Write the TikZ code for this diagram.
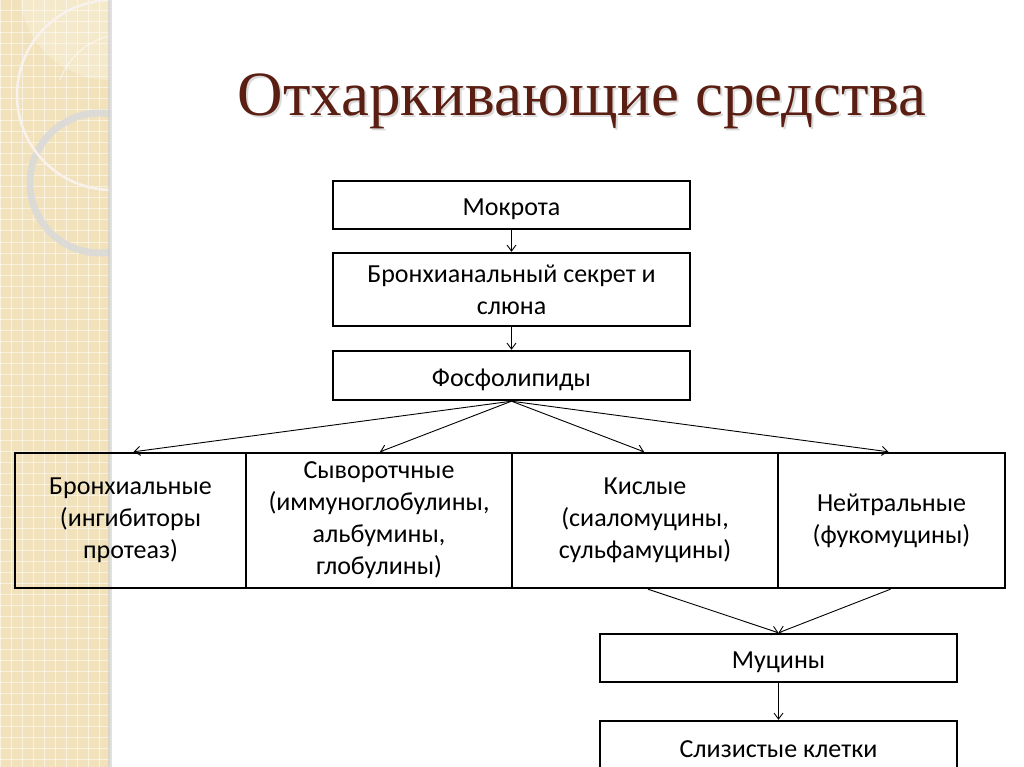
\documentclass[tikz,border=0pt]{standalone}
\usepackage{fontspec}
\setmainfont{Carlito}
\newfontfamily\titlefont{Liberation Serif}
\usetikzlibrary{arrows.meta}
\definecolor{strip}{HTML}{F2E2BC}
\definecolor{titlebrown}{HTML}{5A1E12}
\begin{document}
\begin{tikzpicture}[x=1pt,y=-1pt,
  box/.style={draw=black,line width=2.4pt,align=center,inner sep=1pt,
    font=\fontsize{26}{32}\selectfont,
    execute at begin node={\rule{0pt}{26pt}}},
  wbox/.style={box,fill=white},
  arr/.style={line width=0.9pt,-{Straight Barb[length=6pt,width=9pt]}}]
\useasboundingbox (0,0) rectangle (1024,767);
\fill[white] (0,0) rectangle (1024,767);
% left decorative strip
\begin{scope}
\clip (0,0) rectangle (110,767);
\fill[strip] (0,0) rectangle (110,767);
\foreach \i in {0,11,...,770}{
  \draw[white,opacity=0.55,line width=1pt] (\i,0) -- (\i,767);
  \draw[white,opacity=0.55,line width=1pt] (0,\i) -- (110,\i);
}
\fill[white,opacity=0.25] (110,-10) circle (90);
\draw[line width=7pt,color=gray!30,opacity=0.85] (100,183) circle (70);
\draw[line width=2.5pt,color=white!90!brown] (112,95) circle (95);
\draw[line width=1pt,color=white,opacity=0.6] (60,80) arc (200:300:70);
\end{scope}
\fill[gray!40,opacity=0.6] (108,0) rectangle (112,767);
% title
\node[font=\titlefont\fontsize{63}{68}\selectfont,text=black!40,opacity=0.35] at (584,103) {Отхаркивающие средства};
\node[font=\titlefont\fontsize{63}{68}\selectfont,text=titlebrown] (title) at (582,101) {Отхаркивающие средства};
% boxes
\node[wbox,minimum width=357,minimum height=48] (mok) at (511.5,205) {Мокрота};
\node[wbox,minimum width=357,minimum height=73] (bron) at (511.5,289.5) {Бронхианальный секрет и\\слюна};
\node[wbox,minimum width=357,minimum height=49] (fos) at (511.5,375.5) {Фосфолипиды};
\node[box,minimum width=231,minimum height=135] (b1) at (130.5,520.5) {Бронхиальные\\(ингибиторы\\протеаз)};
\node[box,fill=white,minimum width=266,minimum height=135] (b2) at (379,520.5) {Сыворотчные\\(иммуноглобулины,\\альбумины,\\глобулины)};
\node[box,fill=white,minimum width=266,minimum height=135] (b3) at (645,520.5) {Кислые\\(сиаломуцины,\\сульфамуцины)};
\node[box,fill=white,minimum width=227,minimum height=135] (b4) at (891.5,520.5) {Нейтральные\\(фукомуцины)};
\node[wbox,minimum width=357,minimum height=48] (muc) at (778.5,658) {Муцины};
\node[wbox,minimum width=357,minimum height=48] (sliz) at (778.5,745) {Слизистые клетки};
% connectors
\draw[arr] (mok.south) -- (bron.north);
\draw[arr] (bron.south) -- (fos.north);
\draw[arr] (fos.south) -- ([xshift=3pt]b1.north);
\draw[arr] (fos.south) -- ([xshift=1pt]b2.north);
\draw[arr] (fos.south) -- ([xshift=-1pt]b3.north);
\draw[arr] (fos.south) -- ([xshift=-3pt]b4.north);
\draw[arr] ([xshift=3pt]b3.south) -- (muc.north);
\draw[arr] ([xshift=-1pt]b4.south) -- (muc.north);
\draw[arr] (muc.south) -- (sliz.north);
\end{tikzpicture}
\end{document}
